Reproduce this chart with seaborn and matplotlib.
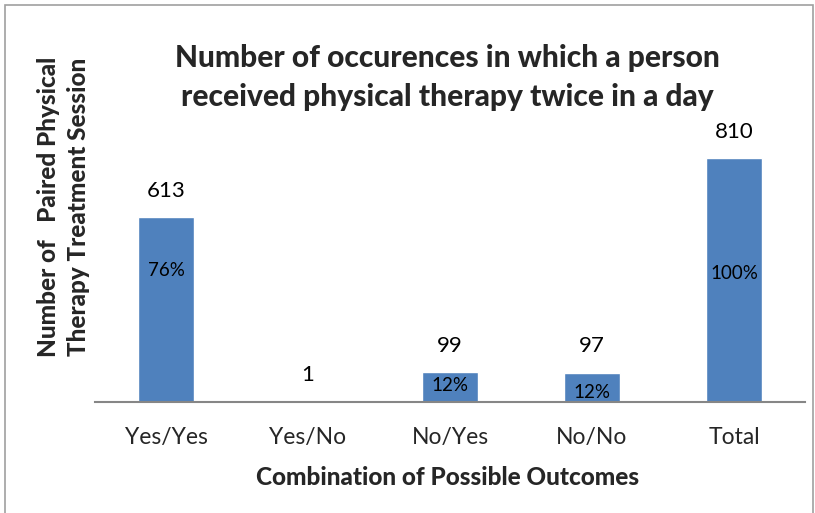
import matplotlib
matplotlib.use("Agg")
import matplotlib.pyplot as plt
import seaborn as sns
import pandas as pd

outcomes = ["Yes/Yes", "Yes/No", "No/Yes", "No/No", "Total"]
counts = [613, 1, 99, 97, 810]
pct_labels = ["76%", "", "12%", "12%", "100%"]
pct_label_y = [438, 0, 56, 33, 428]

df = pd.DataFrame({"outcome": outcomes, "count": counts})

sns.set_theme(style="white")
plt.rcParams["font.family"] = ["Lato", "DejaVu Sans"]

fig = plt.figure(figsize=(8.15, 5.13), dpi=100)
ax = fig.add_axes([0.1166, 0.2164, 0.8711, 0.5282])

sns.barplot(data=df, x="outcome", y="count", color="#4F81BD", saturation=1,
            width=0.39, ax=ax)

# value labels above, share of total inside the bars
for i, (c, p, py) in enumerate(zip(counts, pct_labels, pct_label_y)):
    ax.annotate(str(c), (i, c), xytext=(0, 19), textcoords="offset points",
                ha="center", va="center", fontsize=16, color="black")
    if p:
        ax.text(i, py, p, ha="center", va="center", fontsize=13.5, color="black")

ax.set_xlim(-0.5, 4.5)
ax.set_ylim(0, 900)
ax.set_yticks([])
ax.set_xlabel("")
ax.set_ylabel("")
ax.tick_params(axis="x", length=0, labelsize=16.5, pad=18)
for s in ["top", "right", "left"]:
    ax.spines[s].set_visible(False)
ax.spines["bottom"].set_color("#868686")
ax.spines["bottom"].set_linewidth(1.5)

fig.text(0.549, 0.849, "Number of occurences in which a person\nreceived physical therapy twice in a day",
         ha="center", va="center", fontsize=21.5, fontweight="black", linespacing=1.45)
fig.text(0.078, 0.596, "Number of   Paired Physical\nTherapy Treatment Session",
         ha="center", va="center", rotation=90, fontsize=17.5, fontweight="black", linespacing=1.35)
fig.text(0.549, 0.07, "Combination of Possible Outcomes",
         ha="center", va="center", fontsize=17.5, fontweight="black")

fig.patches.append(plt.Rectangle((0.006, -0.01), 0.991, 1.0, transform=fig.transFigure,
                                 fill=False, edgecolor="#A0A0A0", linewidth=1.2))

fig.savefig("out.png", dpi=100)
